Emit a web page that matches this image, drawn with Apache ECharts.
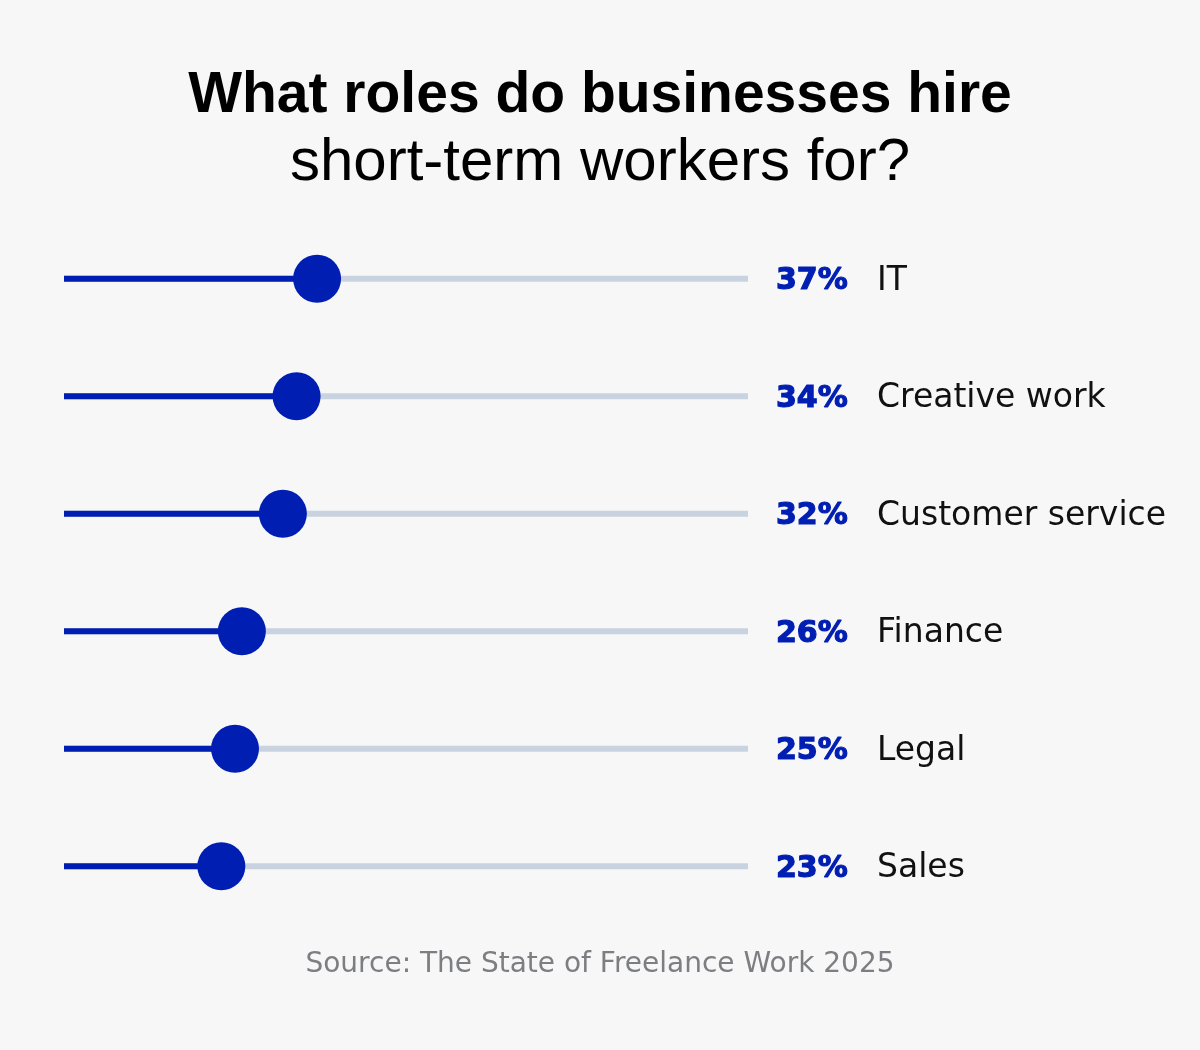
<!DOCTYPE html>
<html><head><meta charset="utf-8">
<style>html,body{margin:0;padding:0;background:#f7f7f7;}#c{width:1200px;height:1050px;}</style>
<script src="https://cdn.jsdelivr.net/npm/echarts@6/dist/echarts.min.js"></script>
</head><body><div id="c"></div>
<script>
const roles = ['IT', 'Creative work', 'Customer service', 'Finance', 'Legal', 'Sales'];
const shares = [37, 34, 32, 26, 25, 23];
const titleLine1 = 'What roles do businesses hire';
const titleLine2 = 'short-term workers for?';
const sourceText = 'Source: The State of Freelance Work 2025';

const BLUE = '#001fb2';
const GREY = '#c8d3df';

const chart = echarts.init(document.getElementById('c'));
chart.setOption({
  backgroundColor: '#f7f7f7',
  animation: false,
  grid: { left: 64, right: 452, top: 220, bottom: 125 },
  xAxis: { type: 'value', min: 0, max: 100, show: false },
  yAxis: {
    type: 'category', data: roles, inverse: true, position: 'right',
    axisLine: { show: false }, axisTick: { show: false }, splitLine: { show: false },
    axisLabel: {
      margin: 28,
      padding: [5, 0, 0, 0],
      formatter: (v, i) => `{p|${shares[i]}%}{n|${v}}`,
      rich: {
        p: { fontFamily: 'DejaVu Sans', fontWeight: 'bold', fontSize: 30, color: BLUE, width: 101, verticalAlign: 'middle',
             textBorderColor: BLUE, textBorderWidth: 1.2 },
        n: { fontFamily: 'DejaVu Sans', fontSize: 33, color: '#111111', verticalAlign: 'middle' }
      }
    }
  },
  graphic: [
    { type: 'text', left: 'center', top: 68, style: { text: titleLine1, font: 'bold 57px "Liberation Sans"', fill: '#000' } },
    { type: 'text', left: 'center', top: 133, style: { text: titleLine2, font: '60px "Liberation Sans"', fill: '#000' } },
    { type: 'text', left: 'center', top: 951, style: { text: sourceText, font: '28px "DejaVu Sans"', fill: '#7d7e82' } }
  ],
  series: [
    {
      type: 'bar', data: shares, barWidth: 6,
      itemStyle: { color: BLUE },
      showBackground: true, backgroundStyle: { color: GREY },
      z: 2
    },
    {
      type: 'scatter', data: shares.map((v, i) => [v, i]),
      symbolSize: 48, itemStyle: { color: BLUE, opacity: 1 }, z: 3
    }
  ]
});
</script></body></html>
